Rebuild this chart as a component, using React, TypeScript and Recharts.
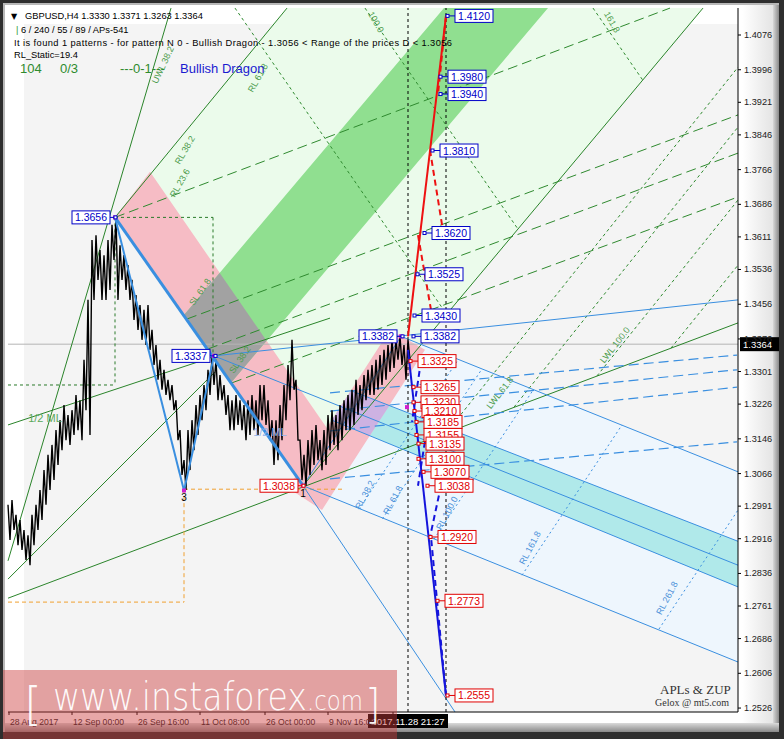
import React from 'react';
import { ComposedChart, XAxis, YAxis, Line, Area, Scatter } from 'recharts';

const FONT = '"Liberation Sans", Arial, sans-serif';
const Y_MIN = 1.25169;
const Y_MAX = 1.41382;
const X_MAX = 730;

// ---------- axis ticks ----------
const priceTicks = [1.4076, 1.3996, 1.3921, 1.3846, 1.3766, 1.3686, 1.3611, 1.3536, 1.3456, 1.3376, 1.3301, 1.3226, 1.3146, 1.3066, 1.2991, 1.2916, 1.2836, 1.2761, 1.2686, 1.2606, 1.2526];
const timeTicks = [1, 64, 129, 192, 257, 320, 385];
const timeLabels = ['28 Aug 2017', '12 Sep 00:00', '26 Sep 16:00', '11 Oct 08:00', '26 Oct 00:00', '9 Nov 16:00', ''];

// ---------- price series (one sample every 4 H4 bars) ----------
const barHigh = [1.2994, 1.3005, 1.2971, 1.2959, 1.2936, 1.2924, 1.2971, 1.2994, 1.3028, 1.3074, 1.3109, 1.3132, 1.3166, 1.3189, 1.3224, 1.3201, 1.3212, 1.3247, 1.3235, 1.3328, 1.3466, 1.3604, 1.3615, 1.3581, 1.3569, 1.3604, 1.3639, 1.3657, 1.3592, 1.3569, 1.3546, 1.3512, 1.3477, 1.3454, 1.3443, 1.3454, 1.3397, 1.3362, 1.3328, 1.3305, 1.3282, 1.3270, 1.3235, 1.3166, 1.3097, 1.3166, 1.3189, 1.3224, 1.3247, 1.3270, 1.3305, 1.3337, 1.3328, 1.3293, 1.3270, 1.3247, 1.3235, 1.3247, 1.3235, 1.3224, 1.3235, 1.3247, 1.3235, 1.3270, 1.3270, 1.3235, 1.3189, 1.3189, 1.3224, 1.3270, 1.3316, 1.3374, 1.3282, 1.3143, 1.3109, 1.3143, 1.3166, 1.3178, 1.3143, 1.3166, 1.3201, 1.3212, 1.3201, 1.3224, 1.3235, 1.3247, 1.3259, 1.3282, 1.3270, 1.3293, 1.3305, 1.3316, 1.3328, 1.3339, 1.3351, 1.3362, 1.3374, 1.3374, 1.3382, 1.3362, 1.3374];
const barLow = [1.2913, 1.2936, 1.2901, 1.2890, 1.2867, 1.2855, 1.2901, 1.2936, 1.2959, 1.2994, 1.3028, 1.3051, 1.3086, 1.3120, 1.3143, 1.3132, 1.3155, 1.3166, 1.3143, 1.3212, 1.3155, 1.3466, 1.3512, 1.3466, 1.3466, 1.3489, 1.3558, 1.3466, 1.3512, 1.3489, 1.3466, 1.3420, 1.3397, 1.3374, 1.3362, 1.3351, 1.3316, 1.3282, 1.3259, 1.3247, 1.3235, 1.3212, 1.3143, 1.3063, 1.3028, 1.3074, 1.3120, 1.3155, 1.3189, 1.3212, 1.3247, 1.3270, 1.3235, 1.3235, 1.3201, 1.3166, 1.3166, 1.3178, 1.3166, 1.3143, 1.3155, 1.3166, 1.3155, 1.3189, 1.3178, 1.3143, 1.3086, 1.3097, 1.3143, 1.3189, 1.3235, 1.3259, 1.3143, 1.3051, 1.3038, 1.3063, 1.3086, 1.3097, 1.3074, 1.3086, 1.3120, 1.3132, 1.3120, 1.3143, 1.3166, 1.3166, 1.3178, 1.3201, 1.3212, 1.3235, 1.3247, 1.3247, 1.3259, 1.3270, 1.3282, 1.3300, 1.3309, 1.3328, 1.3316, 1.3282, 1.3328];

// ---------- zones (bar, price) ----------
const innerBg = [[16, Y_MIN], [730, Y_MIN], [730, 1.41013], [16, 1.41013]];
const lightGreenZone = [[107, 1.3656], [279, 1.4138], [695, 1.4138], [295, 1.3038]];
const lightBlueZone = [[295, 1.3038], [393, 1.3382], [730, 1.3070], [730, 1.2632]];
const pinkZone = [[107, 1.3656], [142, 1.3761], [332, 1.3127], [295, 1.3038]];
const greenBand = [[176, 1.3431], [436, 1.4138], [540, 1.4138], [223, 1.3275]];
const grayZone = [[176, 1.3431], [211.7, 1.3528], [258.5, 1.3372], [223, 1.3275]];
const cyanBand = [[343, 1.3257], [730, 1.2910], [730, 1.2805], [323.8, 1.3189]];
const pinkChannel = [[280, 1.3033], [382, 1.3397], [417, 1.3351], [314, 1.2982]];
const lavenderZone = [[343, 1.3257], [381.4, 1.3223], [361.6, 1.3153], [323.8, 1.3189]];

// ---------- line segments [bar1, price1, bar2, price2] ----------
const greenSolid = [
  [0, 1.2865, 163, 1.4138], [107, 1.3656, 279, 1.4138], [295, 1.3038, 695, 1.4138],
  [0, 1.2779, 730, 1.3413], [0, 1.2823, 207, 1.3300], [0, 1.3178, 322, 1.3424],
];
const greenLongDash = [
  [107, 1.3656, 662, 1.4138], [179, 1.3422, 730, 1.3892], [200, 1.3353, 730, 1.3804], [224, 1.3275, 730, 1.3703],
];
const greenShortDash = [
  [438, 1.3159, 730, 1.4002], [506, 1.3219, 730, 1.3864], [589, 1.3291, 730, 1.3696], [663, 1.3355, 730, 1.3546],
  [585, 1.4138, 634.8, 1.3972], [357, 1.4138, 510, 1.3629], [227, 1.4138, 438.9, 1.3432],
];
const darkGreenDash = [
  [107, 1.3656, 205, 1.3656], [205, 1.3656, 205, 1.3337], [107, 1.3656, 107, 1.3270], [0, 1.3270, 107, 1.3270],
];
const orangeDash = [
  [176, 1.3030, 335, 1.3030], [176, 1.3030, 176, 1.2770], [0, 1.2770, 176, 1.2770],
];
const blueThin = [
  [295, 1.3038, 393, 1.3382], [393, 1.3382, 730, 1.3070], [295, 1.3038, 730, 1.2632],
  [206, 1.3337, 730, 1.2855], [343, 1.3257, 730, 1.2910], [323.8, 1.3189, 730, 1.2805],
  [206, 1.3337, 730, 1.3466], [295, 1.3038, 447, 1.2517],
];
const blueMedium = [[107, 1.3656, 176, 1.3027], [176, 1.3027, 206, 1.3337]];
const blueThick = [[107, 1.3656, 295, 1.3038]];
const blueDash = [
  [322, 1.3252, 729, 1.3339], [322, 1.3210, 729, 1.3305], [322, 1.3164, 729, 1.3265], [322, 1.3054, 729, 1.3139],
];
const blueDot = [
  [351, 1.2984, 450, 1.3328], [374.5, 1.2962, 474, 1.3307], [426, 1.2915, 525, 1.3258],
  [514, 1.2832, 614, 1.3178], [651, 1.2708, 730, 1.2982],
];
const redSolid = [[400, 1.3382, 438, 1.4120]];
const redDash = [[422, 1.3811, 435, 1.3625], [410, 1.3615, 424, 1.3430], [438, 1.4120, 430, 1.3940]];
const projSolid = [[400, 1.3351, 438, 1.2555]];
const projDash = [[413, 1.3325, 404, 1.3185], [420, 1.3185, 410, 1.3038], [433, 1.3038, 422, 1.2920], [438, 1.2555, 423, 1.2920]];
const guideDotted = [[400, Y_MIN, 400, Y_MAX], [438, Y_MIN, 438, Y_MAX]];
const currentLine = [[0, 1.3364, 730, 1.3364]];

// ---------- price boxes ----------
const priceBoxes = [
  { x: 447, y: 1.4120, t: '1.4120', c: 'b', side: 'R' }, { x: 440, y: 1.3980, t: '1.3980', c: 'b', side: 'R' },
  { x: 440, y: 1.3940, t: '1.3940', c: 'b', side: 'R' }, { x: 432, y: 1.3810, t: '1.3810', c: 'b', side: 'R' },
  { x: 424, y: 1.3620, t: '1.3620', c: 'b', side: 'R' }, { x: 417, y: 1.3525, t: '1.3525', c: 'b', side: 'R' },
  { x: 414, y: 1.3430, t: '1.3430', c: 'b', side: 'R' }, { x: 413, y: 1.3382, t: '1.3382', c: 'b', side: 'R' },
  { x: 389, y: 1.3382, t: '1.3382', c: 'b', side: 'L' }, { x: 202, y: 1.3337, t: '1.3337', c: 'b', side: 'L' },
  { x: 102, y: 1.3656, t: '1.3656', c: 'b', side: 'L' },
  { x: 410, y: 1.3325, t: '1.3325', c: 'r', side: 'R' }, { x: 413, y: 1.3265, t: '1.3265', c: 'r', side: 'R' },
  { x: 413, y: 1.3230, t: '1.3230', c: 'r', side: 'R' }, { x: 414, y: 1.3210, t: '1.3210', c: 'r', side: 'R' },
  { x: 416, y: 1.3185, t: '1.3185', c: 'r', side: 'R' }, { x: 416, y: 1.3155, t: '1.3155', c: 'r', side: 'R' },
  { x: 418, y: 1.3135, t: '1.3135', c: 'r', side: 'R' }, { x: 418, y: 1.3100, t: '1.3100', c: 'r', side: 'R' },
  { x: 423, y: 1.3070, t: '1.3070', c: 'r', side: 'R' }, { x: 427, y: 1.3038, t: '1.3038', c: 'r', side: 'R' },
  { x: 430, y: 1.2920, t: '1.2920', c: 'r', side: 'R' }, { x: 437, y: 1.2773, t: '1.2773', c: 'r', side: 'R' },
  { x: 447, y: 1.2555, t: '1.2555', c: 'r', side: 'R' }, { x: 290, y: 1.3038, t: '1.3038', c: 'r', side: 'L' },
];

// ---------- rotated line labels ----------
const G = '#4c9c4c';
const B = '#4a90d9';
const lineTags = [
  { x: 155, y: 1.4007, t: 'UWL 38.2', a: -65, c: G, s: 9 },
  { x: 250, y: 1.3977, t: 'RL 61.8', a: -60, c: G, s: 9 },
  { x: 177, y: 1.3811, t: 'RL 38.2', a: -60, c: G, s: 9 },
  { x: 172, y: 1.3735, t: 'RL 23.6', a: -60, c: G, s: 9 },
  { x: 368, y: 1.4106, t: '100.0', a: 60, c: G, s: 9 },
  { x: 604, y: 1.4106, t: '161.8', a: 60, c: G, s: 9 },
  { x: 192, y: 1.3484, t: 'SL 61.8', a: -55, c: G, s: 9 },
  { x: 232, y: 1.3328, t: 'SL 38.2', a: -55, c: G, s: 9 },
  { x: 492, y: 1.3252, t: 'LWL 61.8', a: -52, c: G, s: 9 },
  { x: 607, y: 1.3362, t: 'LWL 100.0', a: -52, c: G, s: 9 },
  { x: 357, y: 1.3017, t: 'RL 38.2', a: -62, c: B, s: 9 },
  { x: 385, y: 1.3005, t: 'RL 61.8', a: -62, c: B, s: 9 },
  { x: 439, y: 1.2975, t: 'RL 100.0', a: -62, c: B, s: 9 },
  { x: 522, y: 1.2895, t: 'RL 161.8', a: -62, c: B, s: 9 },
  { x: 659, y: 1.2779, t: 'RL 261.8', a: -62, c: B, s: 9 },
  { x: 37, y: 1.3194, t: '1/2 ML', a: 0, c: '#5aa85a', s: 11 },
  { x: 262, y: 1.3162, t: '1/2 ML', a: 0, c: '#93b3ea', s: 11 },
  { x: 176, y: 1.3012, t: '3', a: 0, c: '#000', s: 10 },
  { x: 295, y: 1.3021, t: '1', a: 0, c: '#000', s: 10 },
];
const pivots = [
  { x: 107, y: 1.3656 }, { x: 176, y: 1.3027 }, { x: 206, y: 1.3337 }, { x: 295, y: 1.3038 }, { x: 393, y: 1.3382 }, { x: 399, y: 1.3219 },
];
const currentTag = [{ x: 730, y: 1.3364, t: '1.3364' }];
const timeTag = [{ x: 400, y: Y_MIN, t: '2017.11.28 21:27' }];

// ---------- helpers ----------
function polyToRange(poly: number[][]) {
  const xs = Array.from(new Set(poly.map((p) => p[0]))).sort((a, b) => a - b);
  return xs.map((x) => {
    let lo = Infinity;
    let hi = -Infinity;
    for (let i = 0; i < poly.length; i++) {
      const a = poly[i];
      const b = poly[(i + 1) % poly.length];
      const x0 = Math.min(a[0], b[0]);
      const x1 = Math.max(a[0], b[0]);
      if (x < x0 - 1e-9 || x > x1 + 1e-9) continue;
      if (Math.abs(b[0] - a[0]) < 1e-9) {
        lo = Math.min(lo, a[1], b[1]);
        hi = Math.max(hi, a[1], b[1]);
      } else {
        const t = (x - a[0]) / (b[0] - a[0]);
        const y = a[1] + t * (b[1] - a[1]);
        lo = Math.min(lo, y);
        hi = Math.max(hi, y);
      }
    }
    return { x, r: [lo, hi] };
  });
}

// each sampled bar drawn as one high-low swing
const priceTrace = barHigh.flatMap((h, k) => [{ x: k * 4, y: h }, { x: k * 4 + 2, y: barLow[k] }]);

function zone(key: string, poly: number[][], fill: string) {
  return (
    <Area key={key} data={polyToRange(poly)} dataKey="r" type="linear" stroke="none" fill={fill} fillOpacity={1}
      dot={false} activeDot={false} isAnimationActive={false} legendType="none" />
  );
}

function segs(key: string, list: number[][], stroke: string, width: number, dash?: string) {
  return list.map((s, i) => (
    <Line key={`${key}${i}`} data={[{ x: s[0], y: s[1] }, { x: s[2], y: s[3] }]} dataKey="y" type="linear"
      stroke={stroke} strokeWidth={width} strokeDasharray={dash} dot={false} activeDot={false}
      isAnimationActive={false} legendType="none" />
  ));
}

const PriceBox = (props: any) => {
  const { cx, cy, payload } = props;
  const col = payload.c === 'r' ? '#e00000' : '#0000c8';
  const w = 38;
  const h = 13;
  if (payload.side === 'L') {
    return (
      <g>
        <line x1={cx} y1={cy} x2={cx + 5} y2={cy} stroke={col} />
        <rect x={cx + 4} y={cy - 1.5} width={3} height={3} fill="#fff" stroke={col} strokeWidth={1} />
        <rect x={cx - w} y={cy - h / 2} width={w} height={h} fill="#fff" stroke={col} />
        <text x={cx - w / 2} y={cy + 4} textAnchor="middle" fontSize={10.5} fontFamily={FONT} fill={col}>{payload.t}</text>
      </g>
    );
  }
  return (
    <g>
      <line x1={cx - 7} y1={cy} x2={cx} y2={cy} stroke={col} />
      <rect x={cx - 9} y={cy - 1.5} width={3} height={3} fill="#fff" stroke={col} strokeWidth={1} />
      <rect x={cx} y={cy - h / 2} width={w} height={h} fill="#fff" stroke={col} />
      <text x={cx + w / 2} y={cy + 4} textAnchor="middle" fontSize={10.5} fontFamily={FONT} fill={col}>{payload.t}</text>
    </g>
  );
};

const LineTag = (props: any) => {
  const { cx, cy, payload: p } = props;
  return (
    <text x={cx} y={cy} transform={`rotate(${p.a} ${cx} ${cy})`} textAnchor="middle" dominantBaseline="central"
      fontSize={p.s} fontFamily={FONT} fill={p.c}>{p.t}</text>
  );
};

const PivotMark = (props: any) => {
  const { cx, cy } = props;
  return <rect x={cx - 2} y={cy - 2} width={4} height={4} fill="#d020d0" />;
};

const CurrentTag = (props: any) => {
  const { cx, cy, payload } = props;
  return (
    <g>
      <rect x={cx + 2} y={cy - 7} width={39} height={14} fill="#000" />
      <text x={cx + 5} y={cy + 4} fontSize={9.5} fontFamily={FONT} fill="#fff">{payload.t}</text>
    </g>
  );
};

const TimeTag = (props: any) => {
  const { cx, cy, payload } = props;
  return (
    <g>
      <rect x={cx - 40} y={cy + 2} width={80} height={14} fill="#000" />
      <text x={cx} y={cy + 13} textAnchor="middle" fontSize={9.5} fontFamily={FONT} fill="#fff">{payload.t}</text>
    </g>
  );
};

const XTick = (props: any) => {
  const { x, index } = props;
  return (
    <text x={x + 1} y={725} fontSize={8.6} fontFamily={FONT} fill="#222">{timeLabels[index] ?? ''}</text>
  );
};

const YTick = (props: any) => {
  const { y, payload } = props;
  return (
    <text x={744} y={y + 3} fontSize={9.2} fontFamily={FONT} fill="#222">{payload.value.toFixed(4)}</text>
  );
};

export default function App() {
  return (
    <div style={{ position: 'absolute', left: 0, top: 0, width: 784, height: 739, background: '#2e2e2e', overflow: 'hidden' }}>
      <div style={{ position: 'absolute', left: 3, top: 3, width: 776, height: 729, background: '#b8b8b8' }} />
      <div style={{ position: 'absolute', left: 5, top: 5, width: 768, height: 718, background: 'linear-gradient(to right, #ffffff 0%, #ffffff 96%, #e4e4e4 100%)' }} />
      <div style={{ position: 'absolute', left: 773, top: 5, width: 6, height: 727, background: 'linear-gradient(to right, #d8d8d8, #8a8a8a)' }} />
      <div style={{ position: 'absolute', left: 5, top: 723, width: 774, height: 9, background: 'linear-gradient(to bottom, #dadada, #888888)' }} />
      <div style={{ position: 'absolute', left: 0, top: 0 }}>
        <ComposedChart width={784} height={739} margin={{ top: 8, right: 0, bottom: 0, left: 8 }}>
          <XAxis type="number" dataKey="x" domain={[0, X_MAX]} ticks={timeTicks} interval={0} height={27}
            axisLine={{ stroke: '#000' }} tickLine={{ stroke: '#000' }} tickSize={3} tick={<XTick />} />
          <YAxis orientation="right" type="number" domain={[Y_MIN, Y_MAX]} ticks={priceTicks} interval={0} width={46}
            axisLine={{ stroke: '#000' }} tickLine={{ stroke: '#000' }} tickSize={3} tick={<YTick />} />

          {zone('bg', innerBg, '#f4f4f4')}
          {zone('lg', lightGreenZone, '#ebfbeb')}
          {zone('lb', lightBlueZone, '#eef6fd')}
          {zone('pk', pinkZone, '#f6bcc5')}
          {zone('gb', greenBand, '#90df90')}
          {zone('gr', grayZone, '#a2a2a2')}
          {zone('cy', cyanBand, '#b0e9ea')}
          {zone('pc', pinkChannel, '#f6bcc5')}
          {zone('lv', lavenderZone, '#cdb2e2')}

          {segs('cur', currentLine, '#b4b4b4', 1)}
          {segs('gld', greenLongDash, '#2f8a2f', 1, '10 5')}
          {segs('gsd', greenShortDash, '#2f8a2f', 1, '3 3')}
          {segs('gs', greenSolid, '#2a842a', 1)}
          {segs('dgd', darkGreenDash, '#2a7a2a', 1, '3 3')}
          {segs('od', orangeDash, '#f0a030', 1, '4 3')}
          {segs('bd', blueDash, '#3a8fe0', 1.2, '10 5')}
          {segs('bdt', blueDot, '#3a8fe0', 1, '2 3')}
          {segs('bt', blueThin, '#3a8fe0', 1)}

          <Line data={priceTrace} dataKey="y" type="linear" stroke="#000" strokeWidth={1.4} dot={false} activeDot={false}
            isAnimationActive={false} legendType="none" />

          {segs('bm', blueMedium, '#3a8fe0', 2)}
          {segs('bk', blueThick, '#3a8fe0', 3)}
          {segs('gd', guideDotted, '#000', 1, '3 3')}
          {segs('rs', redSolid, '#ee1111', 2)}
          {segs('rd', redDash, '#ee1111', 2, '6 4')}
          {segs('ps', projSolid, '#1414dc', 2)}
          {segs('pd', projDash, '#1414dc', 2, '6 4')}

          <Scatter data={pivots} dataKey="y" shape={<PivotMark />} isAnimationActive={false} legendType="none" />
          <Scatter data={lineTags} dataKey="y" shape={<LineTag />} isAnimationActive={false} legendType="none" />
          <Scatter data={priceBoxes} dataKey="y" shape={<PriceBox />} isAnimationActive={false} legendType="none" />
          <Scatter data={currentTag} dataKey="y" shape={<CurrentTag />} isAnimationActive={false} legendType="none" />
          <Scatter data={timeTag} dataKey="y" shape={<TimeTag />} isAnimationActive={false} legendType="none" />
        </ComposedChart>
      </div>
      <svg width={784} height={739} style={{ position: 'absolute', left: 0, top: 0, pointerEvents: 'none' }}>
        <g fontFamily={FONT} fill="#000">
          <text x={11} y={19} fontSize={8} fontFamily='"DejaVu Sans", sans-serif'>▼</text>
          <text x={25} y={19} fontSize={9.3}>GBPUSD,H4  1.3330 1.3371 1.3263 1.3364</text>
          <text x={16} y={33} fontSize={9.3}><tspan fill="#2a9a2a">|</tspan> 6 / 240 / 55 / 89 / APs-541</text>
          <text x={14} y={46} fontSize={9.3} textLength={438} lengthAdjust="spacing">It is found 1 patterns  -  for pattern N 0 - Bullish Dragon - 1.3056 &lt; Range of the prices D &lt; 1.3056</text>
          <text x={14} y={58} fontSize={9.3}>RL_Static=19.4</text>
          <text x={20} y={73} fontSize={13} fill="#2e8b2e">104</text>
          <text x={60} y={73} fontSize={13} fill="#2e8b2e">0/3</text>
          <text x={120} y={73} fontSize={13} fill="#2e8b2e">---0-1---</text>
          <text x={180} y={73} fontSize={13} fill="#1a1ad0">Bullish Dragon</text>
        </g>
        <g fontFamily='"Liberation Serif", "DejaVu Serif", serif' fill="#333">
          <text x={660} y={694} fontSize={13}>APLs &amp; ZUP</text>
          <text x={655} y={706} fontSize={10}>Gelox @ mt5.com</text>
        </g>
        <rect x={3} y={670} width={394} height={69} fill="rgba(205,60,60,0.45)" />
        <g fill="rgba(255,255,255,0.95)" fontFamily='"DejaVu Sans", sans-serif' fontWeight={200}>
          <text x={24} y={720} fontSize={46}>[</text>
          <text x={53} y={710} fontSize={39} textLength={254} lengthAdjust="spacingAndGlyphs">www.instaforex</text>
          <text x={307} y={710} fontSize={27} textLength={56} lengthAdjust="spacingAndGlyphs">.com</text>
          <text x={365} y={718} fontSize={40}>]</text>
        </g>
      </svg>
    </div>
  );
}
